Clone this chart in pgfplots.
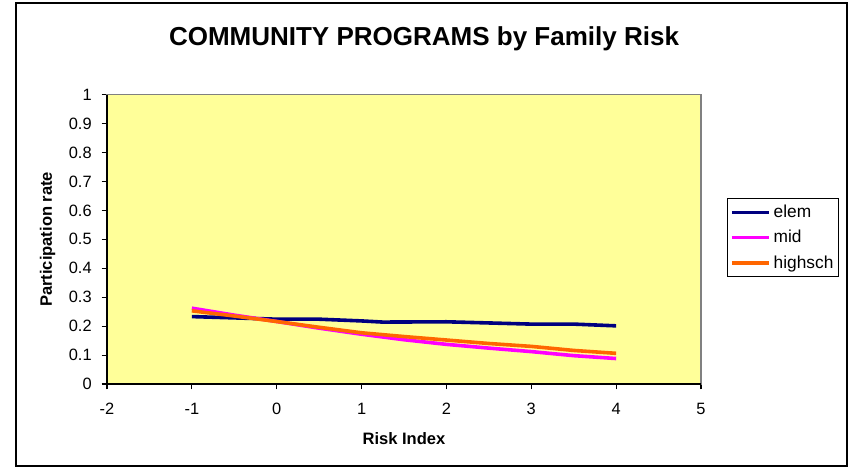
\documentclass[border=0pt]{standalone}
\usepackage{fontspec}
\setmainfont{Liberation Sans}
\usepackage{pgfplots}
\pgfplotsset{compat=1.18}
\definecolor{bgyellow}{HTML}{FFFF99}
\definecolor{elemc}{HTML}{000080}
\definecolor{midc}{HTML}{FF00FF}
\definecolor{highc}{HTML}{FF6600}
\begin{document}
\begin{tikzpicture}
\useasboundingbox (0,0) rectangle (639.75pt,351pt);
\draw[black, line width=0.9pt] (12pt,1.5pt) rectangle (635.25pt,348.75pt);
\node[font=\bfseries\fontsize{19.5}{22}\selectfont] at (318pt,322pt) {COMMUNITY PROGRAMS by Family Risk};
\begin{axis}[
  at={(80.25pt,63pt)}, anchor=south west,
  scale only axis, width=445.5pt, height=217pt,
  xmin=-2, xmax=5, ymin=0, ymax=1,
  xtick={-2,...,5},
  ytick={0,0.1,...,1},
  yticklabel style={/pgf/number format/fixed,/pgf/number format/precision=1, xshift=-4pt},
  xticklabel style={yshift=-7pt},
  /pgf/number format/assume math mode=true,
  tick label style={font=\fontsize{12.3}{14}\selectfont},
  tick align=outside, tick pos=left, major tick length=4pt,
  tick style={black, line width=0.8pt},
  axis line style={gray, line width=0.8pt},
  axis background/.style={fill=bgyellow},
  xlabel={Risk Index}, ylabel={Participation rate},
  label style={font=\bfseries\fontsize{12.4}{14}\selectfont},
  xlabel style={at={(axis description cs:0.5,-0.19)}, anchor=center},
  ylabel style={at={(axis description cs:-0.1,0.5)}, anchor=center},
  legend style={at={(axis description cs:1.0438,0.643)}, anchor=north west,
    draw=black, line width=0.6pt, font=\fontsize{13}{15}\selectfont,
    inner xsep=2pt, inner ysep=3pt, row sep=4pt},
  legend cell align=left,
  legend image code/.code={\draw[#1, line width=2.7pt] (0pt,0pt) -- (28pt,0pt);},
  clip=false,
]
\draw[black, line width=0.8pt] (axis cs:-2,1) -- (axis cs:-2,0) -- (axis cs:5,0);
\addplot[elemc, line width=2.7pt] coordinates {(-1,0.233) (0,0.224) (0.5,0.224) (1,0.218) (1.25,0.214) (2,0.215) (2.5,0.211) (3,0.207) (3.5,0.207) (4,0.201)};
\addlegendentry{elem}
\addplot[midc, line width=2.7pt] coordinates {(-1,0.262) (-0.5,0.238) (0,0.216) (0.5,0.193) (1,0.172) (1.5,0.153) (2,0.137) (2.5,0.124) (3,0.112) (3.5,0.098) (4,0.088)};
\addlegendentry{mid}
\addplot[highc, line width=2.7pt] coordinates {(-1,0.253) (-0.5,0.235) (0,0.216) (0.5,0.196) (1,0.177) (1.5,0.164) (2,0.152) (2.5,0.140) (3,0.130) (3.5,0.116) (4,0.106)};
\addlegendentry{highsch}
\end{axis}
\end{tikzpicture}
\end{document}
